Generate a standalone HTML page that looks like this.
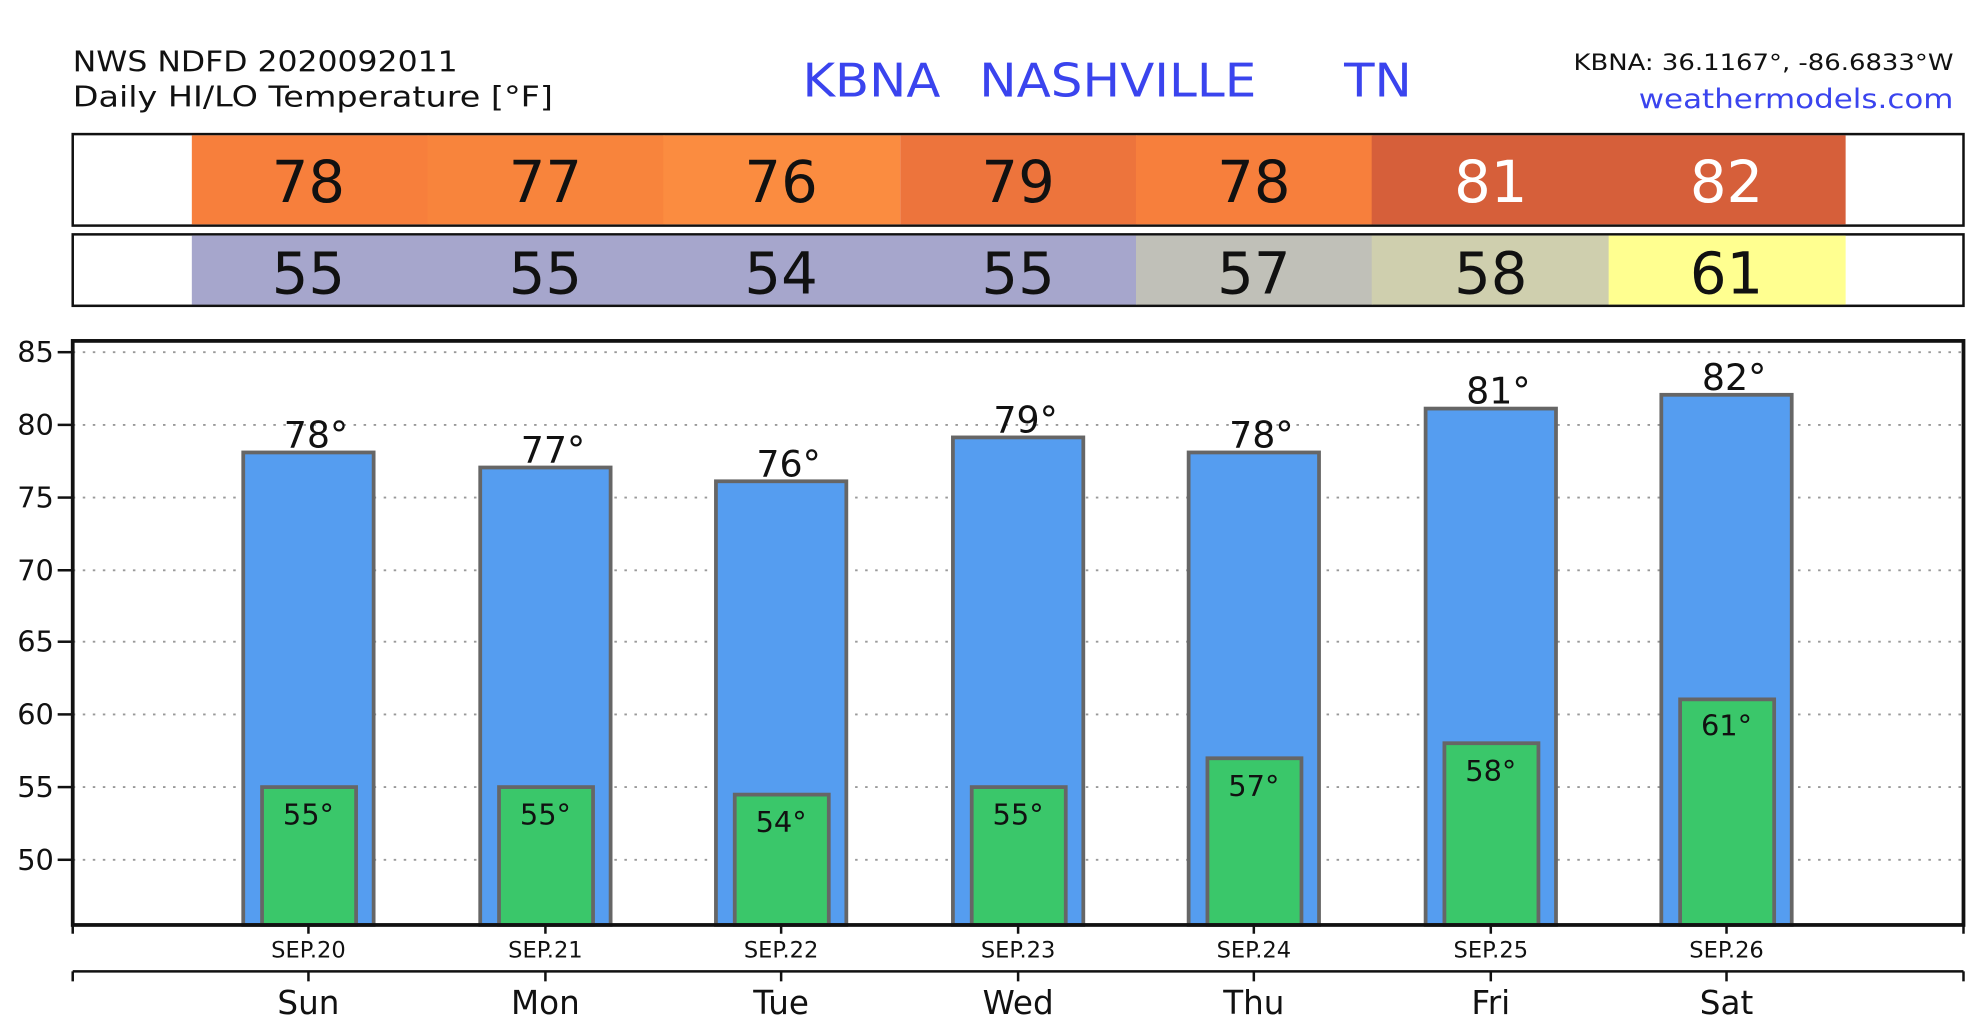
<!DOCTYPE html>
<html><head><meta charset="utf-8"><style>
html,body{margin:0;padding:0;background:#fff;}
svg{display:block;}
text{font-family:"DejaVu Sans","Liberation Sans",sans-serif;}
</style></head><body>
<svg width="1966" height="1034" viewBox="0 0 1568 825" preserveAspectRatio="none" xmlns="http://www.w3.org/2000/svg">
<rect width="1568" height="825" fill="#fff"/>
<text x="58" y="57" font-size="23" fill="#111" textLength="307" lengthAdjust="spacingAndGlyphs">NWS NDFD 2020092011</text>
<text x="58" y="85" font-size="23" fill="#111" textLength="383" lengthAdjust="spacingAndGlyphs">Daily HI/LO Temperature [°F]</text>
<g font-size="37" fill="#3a44ee">
<text x="640" y="77" textLength="110" lengthAdjust="spacingAndGlyphs">KBNA</text><text x="781" y="77" textLength="221" lengthAdjust="spacingAndGlyphs">NASHVILLE</text><text x="1072" y="77" textLength="54" lengthAdjust="spacingAndGlyphs">TN</text></g>
<text x="1255" y="56" font-size="18" fill="#111" textLength="303" lengthAdjust="spacingAndGlyphs">KBNA: 36.1167°, -86.6833°W</text>
<text x="1307" y="86" font-size="21" fill="#3a44ee" textLength="251" lengthAdjust="spacingAndGlyphs">weathermodels.com</text>
<rect x="58" y="107" width="1508" height="73" fill="#fff" stroke="#111" stroke-width="2"/>
<g>
<rect x="153" y="108" width="189" height="71" fill="#f77f3c"/>
<rect x="341" y="108" width="189" height="71" fill="#f8843c"/>
<rect x="529" y="108" width="189" height="71" fill="#fb8c40"/>
<rect x="718" y="108" width="189" height="71" fill="#ed743c"/>
<rect x="906" y="108" width="189" height="71" fill="#f77f3c"/>
<rect x="1094" y="108" width="378" height="71" fill="#d65f3a"/>
</g>
<g font-size="46" text-anchor="middle" fill="#111">
<text x="246" y="161">78</text><text x="435" y="161">77</text><text x="623" y="161">76</text><text x="812" y="161">79</text><text x="1000" y="161">78</text>
<text x="1189" y="161" fill="#fff">81</text><text x="1377" y="161" fill="#fff">82</text></g>
<rect x="58" y="187" width="1508" height="57" fill="#fff" stroke="#111" stroke-width="2"/>
<rect x="153" y="188" width="754" height="55" fill="#a6a6cc"/>
<rect x="906" y="188" width="189" height="55" fill="#c0c0b8"/>
<rect x="1094" y="188" width="190" height="55" fill="#cfcfae"/>
<rect x="1283" y="188" width="189" height="55" fill="#ffff90"/>
<g font-size="46" text-anchor="middle" fill="#111">
<text x="246" y="234">55</text><text x="435" y="234">55</text><text x="623" y="234">54</text><text x="812" y="234">55</text><text x="1000" y="234">57</text><text x="1189" y="234">58</text><text x="1377" y="234">61</text></g>
<g stroke="#999" stroke-width="1.5" stroke-dasharray="2,6">
<line x1="58" x2="1566" y1="281" y2="281"/><line x1="58" x2="1566" y1="339" y2="339"/><line x1="58" x2="1566" y1="397" y2="397"/><line x1="58" x2="1566" y1="455" y2="455"/><line x1="58" x2="1566" y1="512" y2="512"/><line x1="58" x2="1566" y1="570" y2="570"/><line x1="58" x2="1566" y1="628" y2="628"/><line x1="58" x2="1566" y1="686" y2="686"/></g>
<g font-size="23" fill="#111" text-anchor="end">
<text x="43" y="289">85</text><text x="43" y="347">80</text><text x="43" y="405">75</text><text x="43" y="463">70</text><text x="43" y="520">65</text><text x="43" y="578">60</text><text x="43" y="636">55</text><text x="43" y="694">50</text></g>
<g stroke="#111" stroke-width="2"><line x1="46" x2="58" y1="281" y2="281"/><line x1="46" x2="58" y1="339" y2="339"/><line x1="46" x2="58" y1="397" y2="397"/><line x1="46" x2="58" y1="455" y2="455"/><line x1="46" x2="58" y1="512" y2="512"/><line x1="46" x2="58" y1="570" y2="570"/><line x1="46" x2="58" y1="628" y2="628"/><line x1="46" x2="58" y1="686" y2="686"/></g>
<g fill="#559df0" stroke="#666" stroke-width="3">
<rect x="194" y="361" width="104" height="377"/>
<rect x="383" y="373" width="104" height="365"/>
<rect x="571" y="384" width="104" height="354"/>
<rect x="760" y="349" width="104" height="389"/>
<rect x="948" y="361" width="104" height="377"/>
<rect x="1137" y="326" width="104" height="412"/>
<rect x="1325" y="315" width="104" height="423"/>
</g>
<g fill="#3ac76a" stroke="#666" stroke-width="3">
<rect x="209" y="628" width="75" height="110"/>
<rect x="398" y="628" width="75" height="110"/>
<rect x="586" y="634" width="75" height="104"/>
<rect x="775" y="628" width="75" height="110"/>
<rect x="963" y="605" width="75" height="133"/>
<rect x="1152" y="593" width="75" height="145"/>
<rect x="1340" y="558" width="75" height="180"/>
</g>
<g font-size="29" fill="#111" text-anchor="middle">
<text x="252" y="357">78°</text><text x="441" y="369">77°</text><text x="629" y="380">76°</text><text x="818" y="345">79°</text><text x="1006" y="357">78°</text><text x="1195" y="322">81°</text><text x="1383" y="311">82°</text></g>
<g font-size="23" fill="#111" text-anchor="middle">
<text x="246" y="658">55°</text><text x="435" y="658">55°</text><text x="623" y="664">54°</text><text x="812" y="658">55°</text><text x="1000" y="635">57°</text><text x="1189" y="623">58°</text><text x="1377" y="587">61°</text></g>
<rect x="58" y="272" width="1508" height="466" fill="none" stroke="#111" stroke-width="3"/>
<g stroke="#111" stroke-width="2">
<line x1="58" x2="58" y1="738" y2="745"/><line x1="1566" x2="1566" y1="738" y2="745"/>
<line x1="246" x2="246" y1="738" y2="745"/><line x1="435" x2="435" y1="738" y2="745"/><line x1="623" x2="623" y1="738" y2="745"/><line x1="812" x2="812" y1="738" y2="745"/><line x1="1000" x2="1000" y1="738" y2="745"/><line x1="1189" x2="1189" y1="738" y2="745"/><line x1="1377" x2="1377" y1="738" y2="745"/>
<line x1="58" x2="1566" y1="775" y2="775"/>
<line x1="58" x2="58" y1="775" y2="783"/><line x1="1566" x2="1566" y1="775" y2="783"/>
<line x1="246" x2="246" y1="775" y2="783"/><line x1="435" x2="435" y1="775" y2="783"/><line x1="623" x2="623" y1="775" y2="783"/><line x1="812" x2="812" y1="775" y2="783"/><line x1="1000" x2="1000" y1="775" y2="783"/><line x1="1189" x2="1189" y1="775" y2="783"/><line x1="1377" x2="1377" y1="775" y2="783"/>
</g>
<g font-size="18" fill="#111" text-anchor="middle">
<text x="246" y="764">SEP.20</text><text x="435" y="764">SEP.21</text><text x="623" y="764">SEP.22</text><text x="812" y="764">SEP.23</text><text x="1000" y="764">SEP.24</text><text x="1189" y="764">SEP.25</text><text x="1377" y="764">SEP.26</text></g>
<g font-size="26" fill="#111" text-anchor="middle">
<text x="246" y="809">Sun</text><text x="435" y="809">Mon</text><text x="623" y="809">Tue</text><text x="812" y="809">Wed</text><text x="1000" y="809">Thu</text><text x="1189" y="809">Fri</text><text x="1377" y="809">Sat</text></g>
</svg>
</body></html>
